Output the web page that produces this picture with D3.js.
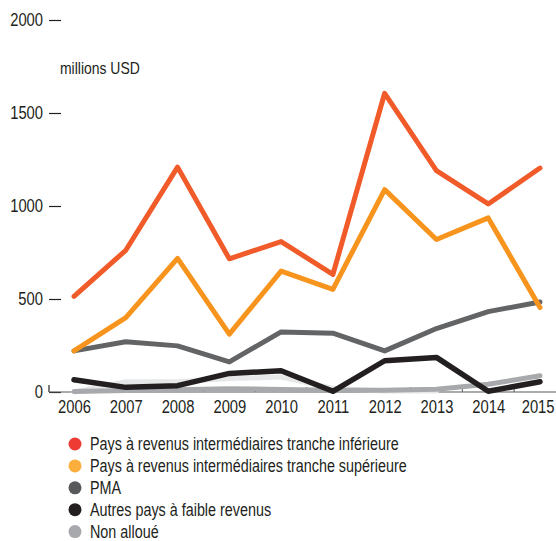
<!DOCTYPE html>
<html>
<head>
<meta charset="utf-8">
<script src="https://cdn.jsdelivr.net/npm/d3@7"></script>
<style>
  body { margin: 0; background: #fff; }
  svg { font-family: "Liberation Sans", Arial, sans-serif; }
</style>
</head>
<body>
<script>
// Données (millions USD)
const years = ['2006', '2007', '2008', '2009', '2010', '2011', '2012', '2013', '2014', '2015'];
const pritInf = [514, 762, 1209, 716, 809, 632, 1606, 1190, 1011, 1204];
const pritSup = [221, 400, 718, 311, 650, 552, 1088, 820, 936, 454];
const pma = [221, 270, 248, 162, 323, 316, 221, 341, 432, 484];
const autresFaible = [66, 25, 34, 100, 114, 4, 168, 186, 4, 55];
const nonAlloue = [3, 8, 12, 18, 14, 10, 10, 15, 42, 87];
const ombre = [0, 55, 55, 72, 80, 20, 6, 6, null, null]; // trait pâle non légendé
const yTicks = [0, 500, 1000, 1500, 2000];

const legendLabels = [
  'Pays à revenus intermédiaires tranche inférieure',
  'Pays à revenus intermédiaires tranche supérieure',
  'PMA',
  'Autres pays à faible revenus',
  'Non alloué'
];
const legendColors = ['#ee3b33', '#fbae3b', '#58595b', '#231f20', '#a7a9ac'];

const width = 556;
const height = 541;
const textColor = '#231f20';
const narrow = 0.82; // police étroite simulée

const series = [
  { values: ombre, color: '#e6e7e8', w: 5 },
  { values: nonAlloue, color: '#a7a9ac', w: 5 },
  { values: autresFaible, color: '#231f20', w: 5.5 },
  { values: pma, color: '#636466', w: 5 },
  { values: pritSup, color: '#f7941d', w: 5 },
  { values: pritInf, color: '#f15a29', w: 5 }
];

const svg = d3.select('body')
  .append('svg')
  .attr('width', width)
  .attr('height', height);

function squeeze(sel) {
  sel.each(function () {
    const w = this.getComputedTextLength();
    d3.select(this)
      .attr('textLength', w * narrow)
      .attr('lengthAdjust', 'spacingAndGlyphs');
  });
}

// Échelles
const x = d3.scalePoint()
  .domain(years)
  .range([74, 540]);

const y = d3.scaleLinear()
  .domain([0, 2000])
  .range([392, 20]);

// Axe vertical : étiquettes + petits tirets
const yAxis = svg.append('g')
  .attr('transform', 'translate(49, 0)')
  .call(d3.axisRight(y).tickValues(yTicks).tickSize(12).tickFormat(d => d))
  .call(g => g.select('.domain').remove());
yAxis.selectAll('line').attr('stroke', textColor).attr('stroke-width', 1.2);
yAxis.selectAll('text')
  .attr('x', -6)
  .attr('text-anchor', 'end')
  .attr('fill', textColor)
  .style('font-size', '18px')
  .style('font-family', null)
  .call(squeeze);

// petit crochet vertical du zéro
svg.append('line')
  .attr('x1', 49).attr('x2', 49)
  .attr('y1', y(0) - 7).attr('y2', y(0))
  .attr('stroke', textColor)
  .attr('stroke-width', 1.2);

// Axe horizontal
const step = x.step();
const xAxis = svg.append('g')
  .attr('transform', `translate(0, ${y(0)})`)
  .call(d3.axisBottom(x).tickSize(0).tickPadding(8))
  .call(g => g.select('.domain').remove());
xAxis.selectAll('text')
  .attr('fill', textColor)
  .style('font-size', '18px')
  .style('font-family', null)
  .call(squeeze);
// la dernière année touche le bord : on l'aligne à droite
xAxis.selectAll('text').filter(d => d === '2015')
  .attr('text-anchor', 'end')
  .attr('x', width - 2 - x('2015'));

svg.append('line')
  .attr('x1', 49).attr('x2', width)
  .attr('y1', y(0)).attr('y2', y(0))
  .attr('stroke', '#58595b')
  .attr('stroke-width', 1.2);

// tirets entre les années
svg.append('g')
  .selectAll('line')
  .data(years.slice(0, -1))
  .enter()
  .append('line')
  .attr('x1', d => x(d) + step / 2)
  .attr('x2', d => x(d) + step / 2)
  .attr('y1', y(0))
  .attr('y2', y(0) - 5)
  .attr('stroke', '#58595b')
  .attr('stroke-width', 1);

// Titre de l'unité
svg.append('text')
  .attr('x', 60)
  .attr('y', 74)
  .attr('fill', textColor)
  .style('font-size', '17px')
  .text('millions USD')
  .call(squeeze);

// Lignes
const line = d3.line()
  .defined(d => d != null)
  .x((d, i) => x(years[i]))
  .y(d => y(d));

svg.append('g')
  .selectAll('path')
  .data(series)
  .enter()
  .append('path')
  .attr('d', d => line(d.values))
  .attr('fill', 'none')
  .attr('stroke', d => d.color)
  .attr('stroke-width', d => d.w)
  .attr('stroke-linejoin', 'round')
  .attr('stroke-linecap', 'round');

// Légende
const legend = svg.append('g')
  .selectAll('g')
  .data(legendLabels)
  .enter()
  .append('g')
  .attr('transform', (d, i) => `translate(75, ${444 + i * 21.9})`);

legend.append('circle')
  .attr('r', 6.5)
  .attr('fill', (d, i) => legendColors[i]);

legend.append('text')
  .attr('x', 15)
  .attr('dy', '0.35em')
  .attr('fill', textColor)
  .style('font-size', '17.5px')
  .text(d => d)
  .call(squeeze);
</script>
</body>
</html>
